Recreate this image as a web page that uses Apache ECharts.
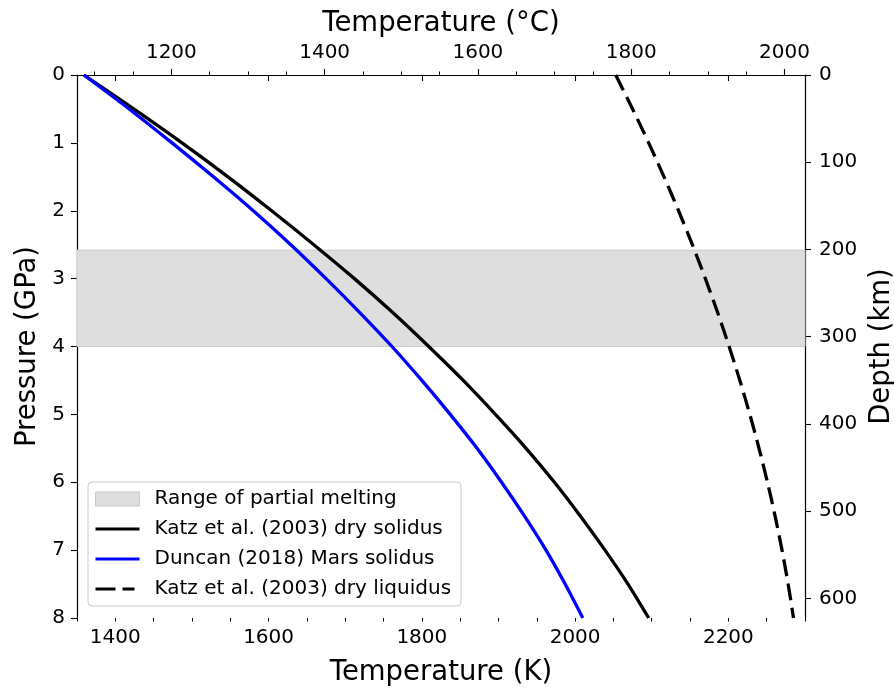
<!DOCTYPE html>
<html>
<head>
<meta charset="utf-8">
<title>Solidus / liquidus</title>
<script src="https://cdn.jsdelivr.net/npm/echarts@6/dist/echarts.min.js"></script>
<style>
  html, body { margin: 0; padding: 0; background: #fff; }
  #chart { width: 894px; height: 690px; }
</style>
</head>
<body>
<div id="chart"></div>
<script>
// pressure samples (GPa) shared by all three curves
const pressure = [0, 0.5, 1, 1.5, 2, 2.5, 3, 3.5, 4, 4.5, 5, 5.5, 6, 6.5, 7, 7.5, 8];
// temperatures (K)
const katzSolidus = [1359, 1424, 1487, 1547, 1604, 1659, 1712, 1762, 1809, 1854, 1896, 1936, 1973, 2007, 2039, 2069, 2096];
const duncanSolidus = [1359, 1418, 1474, 1528, 1580, 1629, 1675, 1719, 1761, 1800, 1837, 1872, 1904, 1934, 1962, 1987, 2010];
const katzLiquidus = [2053, 2075, 2096, 2116, 2135, 2153, 2170, 2186, 2201, 2215, 2228, 2240, 2251, 2261, 2270, 2278, 2285];
// shaded range of partial melting (GPa)
const meltBand = [2.58, 4.0];

// axis ticks
const tempTicksK = [1400, 1600, 1800, 2000, 2200];
const tempMinorK = [1350, 1400, 1450, 1500, 1550, 1600, 1650, 1700, 1750, 1800, 1850, 1900, 1950, 2000, 2050, 2100, 2150, 2200, 2250, 2300];
const tempTicksC = [1200, 1400, 1600, 1800, 2000];
const tempMinorC = [1100, 1150, 1200, 1250, 1300, 1350, 1400, 1450, 1500, 1550, 1600, 1650, 1700, 1750, 1800, 1850, 1900, 1950, 2000];
const pressureTicks = [0, 1, 2, 3, 4, 5, 6, 7, 8];
const depthTicks = [0, 100, 200, 300, 400, 500, 600];

const tMin = 1350, tMax = 2300;
const kelvin = 273.15;
const depthMax = 622.5;

const FONT = 'DejaVu Sans';

// legend handles: degenerate slivers at top/bottom keep the 44x14 box so the bar stays thin
const LINE_ICON = 'path://M0,0L44,0L44,0.01Z M0,5.4L44,5.4L44,8.6L0,8.6Z M0,14L44,14L44,13.99Z';
const DASH_ICON = 'path://M0,0L44,0L44,0.01Z M0,5.4L20,5.4L20,8.6L0,8.6Z M27,5.4L39,5.4L39,8.6L27,8.6Z M0,14L44,14L44,13.99Z';

function pairs(temps) {
  return temps.map((t, i) => [t, pressure[i]]);
}

function plain(v) {
  return String(v);
}

function tickAxis(extra) {
  return Object.assign({
    type: 'value',
    axisLine: { show: true, lineStyle: { color: '#000', width: 1.2 } },
    splitLine: { show: false },
    nameTextStyle: { color: '#000', fontFamily: FONT, fontSize: 27.5 }
  }, extra);
}

function ticks(values) {
  return { show: true, inside: false, length: 6, customValues: values, lineStyle: { color: '#000', width: 1.1 } };
}

function labels(values, margin) {
  return { show: true, color: '#000', fontFamily: FONT, fontSize: 20, margin: margin, customValues: values, formatter: plain };
}

function minorAxis(position, min, max, values) {
  return {
    type: 'value',
    position: position,
    min: min,
    max: max,
    axisLine: { show: false },
    axisTick: { show: true, length: 3.5, customValues: values, lineStyle: { color: '#000', width: 1 } },
    axisLabel: { show: false },
    splitLine: { show: false }
  };
}

function setOption(chart) {
  const lineCommon = {
    type: 'line',
    xAxisIndex: 0,
    yAxisIndex: 0,
    symbol: 'none',
    smooth: 0.3,
    z: 3
  };

  const option = {
    animation: false,
    grid: { left: 77, right: 89, top: 75, bottom: 72, containLabel: false, outerBoundsMode: 'none' },
    legend: {
      orient: 'vertical',
      left: 88,
      top: 482,
      padding: [6, 10, 6, 7],
      itemWidth: 44,
      itemHeight: 14,
      itemGap: 8,
      symbolKeepAspect: false,
      borderColor: '#cccccc',
      borderWidth: 1,
      borderRadius: 4,
      backgroundColor: 'rgba(255,255,255,0.8)',
      textStyle: { color: '#000', fontFamily: FONT, fontSize: 20, lineHeight: 22, padding: [0, 0, 0, 10] },
      data: [
        { name: 'Range of partial melting', icon: 'rect', itemStyle: { color: '#dedede', borderColor: '#c8c8c8', borderWidth: 1 } },
        { name: 'Katz et al. (2003) dry solidus', icon: LINE_ICON, itemStyle: { color: '#000', borderWidth: 0 } },
        { name: 'Duncan (2018) Mars solidus', icon: LINE_ICON, itemStyle: { color: '#0000ff', borderWidth: 0 } },
        { name: 'Katz et al. (2003) dry liquidus', icon: DASH_ICON, itemStyle: { color: '#000', borderWidth: 0 } }
      ]
    },
    xAxis: [
      tickAxis({
        position: 'bottom',
        min: tMin,
        max: tMax,
        name: 'Temperature (K)',
        nameLocation: 'middle',
        nameGap: 41,
        axisTick: ticks(tempTicksK),
        axisLabel: labels(tempTicksK, 10)
      }),
      tickAxis({
        position: 'top',
        min: tMin - kelvin,
        max: tMax - kelvin,
        name: 'Temperature (°C)',
        nameLocation: 'middle',
        nameGap: 36,
        axisTick: ticks(tempTicksC),
        axisLabel: labels(tempTicksC, 12)
      }),
      minorAxis('bottom', tMin, tMax, tempMinorK),
      minorAxis('top', tMin - kelvin, tMax - kelvin, tempMinorC)
    ],
    yAxis: [
      tickAxis({
        position: 'left',
        min: 0,
        max: 8,
        inverse: true,
        name: 'Pressure (GPa)',
        nameLocation: 'middle',
        nameGap: 35,
        axisTick: ticks(pressureTicks),
        axisLabel: labels(pressureTicks, 12)
      }),
      tickAxis({
        position: 'right',
        min: 0,
        max: depthMax,
        inverse: true,
        name: 'Depth (km)',
        nameLocation: 'middle',
        nameGap: 52,
        axisTick: ticks(depthTicks),
        axisLabel: labels(depthTicks, 14)
      })
    ],
    series: [
      {
        name: 'Range of partial melting',
        type: 'line',
        xAxisIndex: 0,
        yAxisIndex: 0,
        data: [],
        itemStyle: { color: '#dedede' },
        markArea: {
          silent: true,
          z: 1,
          itemStyle: { color: '#dedede', borderColor: '#cccccc', borderWidth: 1 },
          data: [[{ xAxis: tMin, yAxis: meltBand[0] }, { xAxis: tMax, yAxis: meltBand[1] }]]
        }
      },
      Object.assign({}, lineCommon, {
        name: 'Katz et al. (2003) dry solidus',
        data: pairs(katzSolidus),
        itemStyle: { color: '#000' },
        lineStyle: { color: '#000', width: 3.3 }
      }),
      Object.assign({}, lineCommon, {
        name: 'Duncan (2018) Mars solidus',
        data: pairs(duncanSolidus),
        itemStyle: { color: '#0000ff' },
        lineStyle: { color: '#0000ff', width: 3.3 }
      }),
      Object.assign({}, lineCommon, {
        name: 'Katz et al. (2003) dry liquidus',
        data: pairs(katzLiquidus),
        itemStyle: { color: '#000' },
        lineStyle: { color: '#000', width: 3.3, type: [17, 7.5] }
      })
    ]
  };
  chart.setOption(option);
}

const chart = echarts.init(document.getElementById('chart'), null, { renderer: 'canvas' });
setOption(chart);
</script>
</body>
</html>
